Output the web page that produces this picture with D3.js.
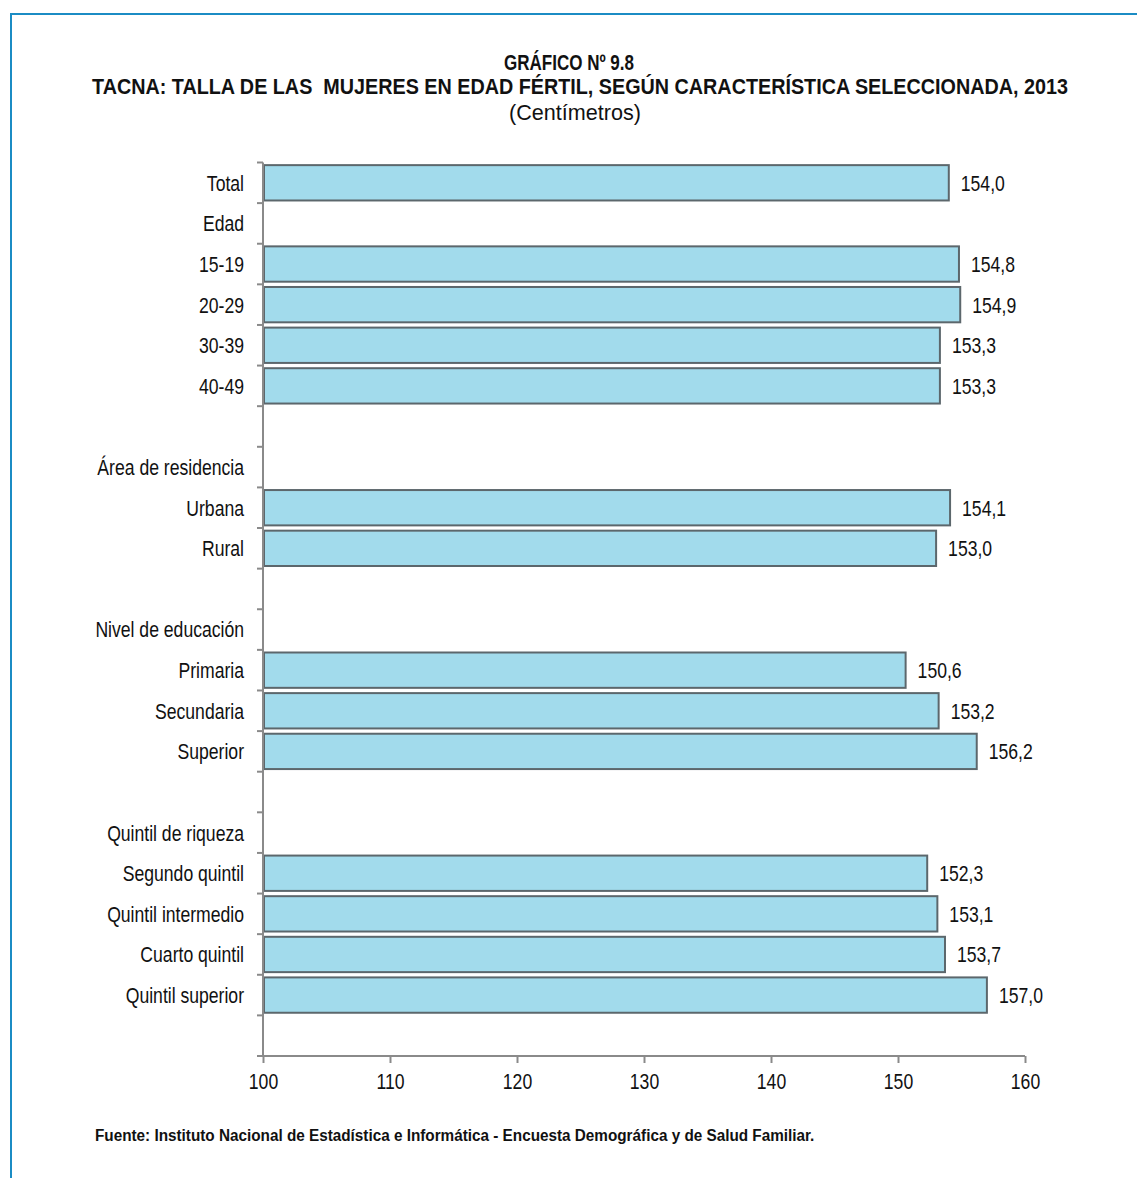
<!DOCTYPE html>
<html>
<head>
<meta charset="utf-8">
<script src="https://cdn.jsdelivr.net/npm/d3@7"></script>
<style>
  html, body { margin: 0; padding: 0; background: #fff; }
  svg { display: block; }
  text { font-family: 'Liberation Sans', Arial, sans-serif; fill: #111; }
</style>
</head>
<body>
<script>
// ---- data ----
const categories = [
  "Total", "Edad", "15-19", "20-29", "30-39", "40-49", "",
  "Área de residencia", "Urbana", "Rural", "",
  "Nivel de educación", "Primaria", "Secundaria", "Superior", "",
  "Quintil de riqueza", "Segundo quintil", "Quintil intermedio", "Cuarto quintil", "Quintil superior", ""
];
const values = [
  154.0, null, 154.8, 154.9, 153.3, 153.3, null,
  null, 154.1, 153.0, null,
  null, 150.6, 153.2, 156.2, null,
  null, 152.3, 153.1, 153.7, 157.0, null
];
const xTicks = [100, 110, 120, 130, 140, 150, 160];
const titleLines = ["GRÁFICO Nº 9.8", "TACNA: TALLA DE LAS\u00a0 MUJERES EN EDAD FÉRTIL, SEGÚN CARACTERÍSTICA SELECCIONADA, 2013"];
const subtitle = "(Centímetros)";
const source = "Fuente: Instituto Nacional de Estadística e Informática - Encuesta Demográfica y de Salud Familiar.";

// ---- layout ----
const W = 1137, H = 1178;
const SX = 0.8; // horizontal condensing to mimic a narrow typeface
const svg = d3.select("body").append("svg").attr("width", W).attr("height", H);

function placeCondensed(sel, fx, fy) {
  sel.attr("transform", (d, i) => `translate(${fx(d, i)},${fy(d, i)}) scale(${SX},1)`);
}
// place a single text so that it spans a given width (horizontal scaling only)
function fitText(t, cx, cy, width) {
  const natural = t.node().getComputedTextLength();
  t.attr("transform", `translate(${cx},${cy}) scale(${width / natural},1)`);
}

// frame
svg.append("path")
  .attr("d", `M11,${H} L11,14 L${W},14`)
  .attr("fill", "none").attr("stroke", "#1b8cc4").attr("stroke-width", 2);

// titles
const t1 = svg.append("text").attr("text-anchor", "middle")
  .attr("font-weight", "bold").attr("font-size", 22).text(titleLines[0]);
fitText(t1, 569, 70, 130);
const t2 = svg.append("text").attr("text-anchor", "middle")
  .attr("font-weight", "bold").attr("font-size", 22).text(titleLines[1]);
fitText(t2, 580, 94, 976);
const t3 = svg.append("text").attr("text-anchor", "middle")
  .attr("font-size", 22).text(subtitle);
fitText(t3, 575, 120, 132);

const idx = categories.map((d, i) => i);
const x = d3.scaleLinear().domain([100, 160]).range([263, 1025]);
const y = d3.scaleBand().domain(idx).range([162.5, 1056]).paddingInner(0.13).paddingOuter(0.065);
const step = y.step();
const band0 = 162.5;

const axisColor = "#8a8a8a";

// bars
const barData = idx.filter(i => values[i] != null);
svg.append("g").selectAll("rect").data(barData).join("rect")
  .attr("x", x(100) + 1)
  .attr("y", i => y(i))
  .attr("width", i => x(values[i]) - x(100) - 1)
  .attr("height", y.bandwidth())
  .attr("fill", "#a2dbec")
  .attr("stroke", "#5c676c")
  .attr("stroke-width", 2);

// value labels
svg.append("g").selectAll("text").data(barData).join("text")
  .call(placeCondensed, i => x(values[i]) + 12, i => y(i) + y.bandwidth() / 2)
  .attr("dy", "0.36em")
  .attr("font-size", 22)
  .text(i => d3.format(".1f")(values[i]).replace(".", ","));

// category labels
svg.append("g").selectAll("text").data(idx).join("text")
  .call(placeCondensed, () => 244, i => y(i) + y.bandwidth() / 2)
  .attr("dy", "0.36em")
  .attr("text-anchor", "end")
  .attr("font-size", 22)
  .text(i => categories[i]);

// y axis line + ticks at band boundaries
const yAxisG = svg.append("g");
yAxisG.append("line").attr("x1", 263).attr("x2", 263).attr("y1", band0).attr("y2", 1056)
  .attr("stroke", axisColor).attr("stroke-width", 2);
yAxisG.selectAll("line.tk").data(d3.range(categories.length + 1)).join("line")
  .attr("class", "tk")
  .attr("x1", 257).attr("x2", 263)
  .attr("y1", k => band0 + k * step).attr("y2", k => band0 + k * step)
  .attr("stroke", axisColor).attr("stroke-width", 2);

// x axis
const xAxis = d3.axisBottom(x).tickValues(xTicks).tickSize(7).tickPadding(10).tickFormat(d3.format("d"));
const xg = svg.append("g").attr("transform", "translate(0,1056)").call(xAxis);
xg.select(".domain").attr("stroke", axisColor).attr("stroke-width", 2).attr("d", `M263,0H1025`);
xg.selectAll(".tick line").attr("stroke", axisColor).attr("stroke-width", 2);
xg.selectAll(".tick text").attr("font-size", 22).attr("fill", "#111")
  .attr("transform", `scale(${SX},1)`)
  .style("font-family", "'Liberation Sans', Arial, sans-serif");

// source
const src = svg.append("text").attr("font-size", 17).attr("font-weight", "bold").text(source);
fitText(src, 95, 1141, 720);
</script>
</body>
</html>
